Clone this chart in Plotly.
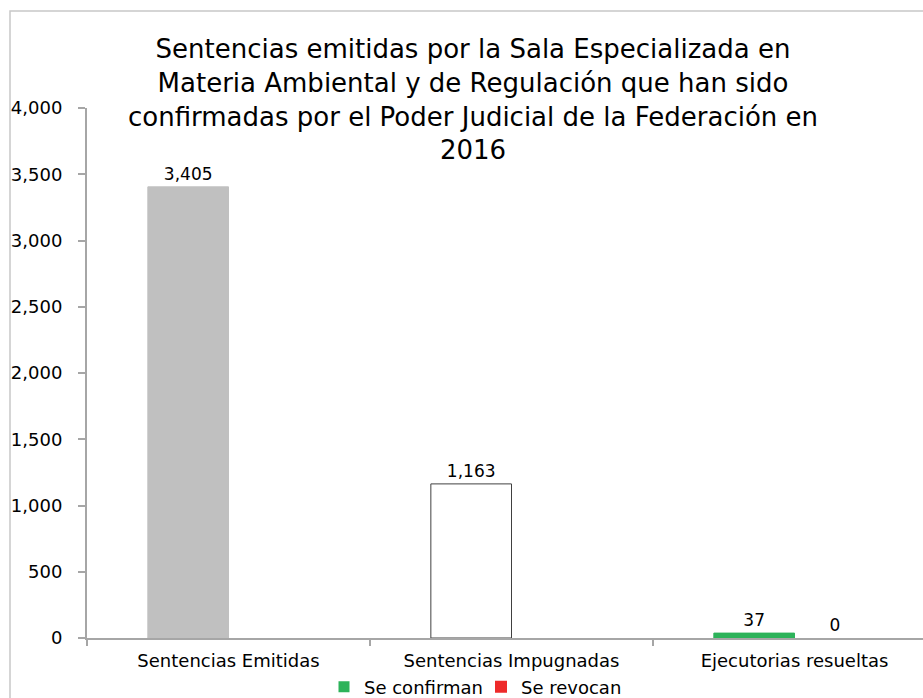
import plotly.graph_objects as go

categories = ["Sentencias Emitidas", "Sentencias Impugnadas", "Ejecutorias resueltas"]
confirman_values = [3405, 1163, 37]
revocan_values = [None, None, 0]
confirman_colors = ["#c0c0c0", "#ffffff", "#2db35a"]
confirman_line_colors = ["#c0c0c0", "#404040", "#2db35a"]
legend_names = ["Se confirman", "Se revocan"]
legend_colors = ["#2db35a", "#ee2a2a"]
y_tick_values = [0, 500, 1000, 1500, 2000, 2500, 3000, 3500, 4000]
title_text = ("Sentencias emitidas por la Sala Especializada en<br>"
              "Materia Ambiental y de Regulación que han sido<br>"
              "confirmadas por el Poder Judicial de la Federación en<br>"
              "2016")

W, H = 923, 698
ML, MR, MT, MB = 87, 0, 108, 60
font_family = "DejaVu Sans, Liberation Sans, Arial, sans-serif"

def fmt(v):
    return f"{v:,}"

fig = go.Figure()
# legend-only entry for "Se confirman" (the bar trace itself uses per-bar colours)
fig.add_trace(go.Scatter(
    name=legend_names[0], x=[None], y=[None], mode="markers",
    marker=dict(symbol="square", size=11, color=legend_colors[0]),
    showlegend=True, hoverinfo="skip",
))
fig.add_trace(go.Bar(
    name=legend_names[0],
    x=categories, y=confirman_values,
    marker=dict(color=confirman_colors, line=dict(color=confirman_line_colors, width=1)),
    text=[fmt(v) for v in confirman_values],
    textposition="outside",
    textfont=dict(size=17, color="#000000"),
    cliponaxis=False, showlegend=False,
))
fig.add_trace(go.Bar(
    name=legend_names[1],
    x=categories, y=revocan_values,
    marker=dict(color=legend_colors[1], line=dict(width=0)),
    text=["" if v is None else fmt(v) for v in revocan_values],
    textposition="outside",
    textfont=dict(size=17, color="#000000"),
    cliponaxis=False, showlegend=True,
))

plot_w = W - ML - MR
plot_h = H - MT - MB
cat_w = (936 - ML) / 3.0
x_end = 2.5 - (936 - W) / cat_w

fig.update_layout(
    width=W, height=H,
    margin=dict(l=ML, r=MR, t=MT, b=MB, pad=0, autoexpand=False),
    paper_bgcolor="white", plot_bgcolor="white",
    barmode="group", bargap=0.43, bargroupgap=0,
    font=dict(family=font_family, size=18, color="#000000"),
    title=dict(text=title_text, x=473 / W, xanchor="center",
               y=1 - 58 / H, yanchor="top", yref="container",
               font=dict(size=26, color="#000000", family=font_family)),
    showlegend=True,
    legend=dict(orientation="h", x=(481 - ML) / plot_w, xanchor="center",
                y=-(687 - (H - MB)) / plot_h, yanchor="middle",
                font=dict(size=18), itemwidth=30, traceorder="normal",
                entrywidth=112, entrywidthmode="pixels",
                bgcolor="rgba(0,0,0,0)"),
    xaxis=dict(type="category", categoryorder="array", categoryarray=categories,
               range=[-0.5, x_end], showgrid=False, showline=True,
               linecolor="#a6a6a6", linewidth=2, ticks="outside",
               tickson="boundaries", ticklen=6, tickcolor="#a6a6a6", tickwidth=2,
               ticklabelstandoff=5, tickfont=dict(size=18), fixedrange=True),
    yaxis=dict(range=[0, 4000], tickvals=y_tick_values,
               ticktext=[fmt(v) for v in y_tick_values],
               showgrid=False, zeroline=False, showline=True,
               linecolor="#a6a6a6", linewidth=2, ticks="outside",
               ticklen=7, tickcolor="#a6a6a6", tickwidth=2,
               ticklabelstandoff=12, tickfont=dict(size=18)),
    shapes=[dict(type="rect", xref="paper", yref="paper",
                 x0=(10 - ML) / plot_w, x1=1.2,
                 y0=-0.5, y1=1 + (MT - 11) / plot_h,
                 line=dict(color="#c8c8c8", width=1.5), fillcolor="rgba(0,0,0,0)",
                 layer="below")],
)

fig.write_html("out.html", config={"displayModeBar": False},
               post_script="document.body.style.margin='0';document.body.style.overflow='hidden';")
